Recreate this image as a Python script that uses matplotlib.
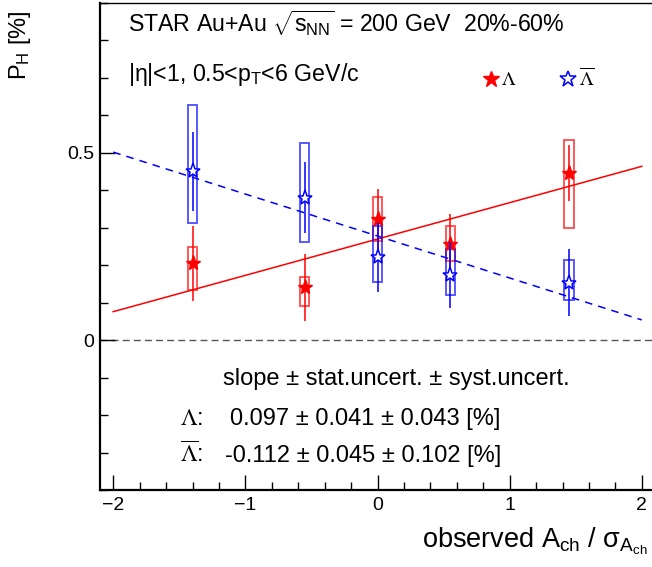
import numpy as np
import matplotlib.pyplot as plt
from matplotlib.patches import Rectangle
from matplotlib.lines import Line2D
from matplotlib.ticker import MultipleLocator, FixedLocator

plt.rcParams['font.family'] = ['Liberation Sans', 'DejaVu Sans']
plt.rcParams['mathtext.fontset'] = 'custom'
plt.rcParams['mathtext.rm'] = 'Liberation Sans'
plt.rcParams['mathtext.it'] = 'Liberation Sans'
plt.rcParams['mathtext.bf'] = 'Liberation Sans:bold'

## values
x_ach = [-1.40, -0.55, 0.00, 0.55, 1.45]

lam_ph = [0.205, 0.141, 0.324, 0.258, 0.447]
lam_stat = [0.101, 0.090, 0.080, 0.080, 0.075]
lam_sys_lo = [0.133, 0.090, 0.265, 0.210, 0.300]
lam_sys_hi = [0.250, 0.168, 0.383, 0.306, 0.535]

alam_ph = [0.451, 0.380, 0.221, 0.173, 0.153]
alam_stat = [0.105, 0.095, 0.093, 0.088, 0.089]
alam_sys_lo = [0.314, 0.263, 0.154, 0.120, 0.106]
alam_sys_hi = [0.628, 0.527, 0.306, 0.242, 0.213]

## linear fits (slope, intercept) over the fit range
lam_fit = (0.097, 0.270)
alam_fit = (-0.112, 0.278)
fit_range = (-2.0, 2.0)

x_ticks = [-2, -1, 0, 1, 2]
x_ticklabels = ['\u22122', '\u22121', '0', '1', '2']
y_ticks = [0.0, 0.5]
y_ticklabels = ['0', '0.5']

W, H = 652, 567
def fx(px):
    return px / W
def fy(py):
    return (H - py) / H

fig = plt.figure(figsize=(W / 100, H / 100), dpi=100)
ax = fig.add_axes([fx(100), fy(490), 555 / W, 487 / H])
ax.set_xlim(-2.1, 2.1)
ax.set_ylim(-0.4, 0.9)

## zero line
ax.axhline(0, color='#555555', lw=1, ls=(0, (5, 3)), zorder=1)

## fit lines
xf = np.linspace(fit_range[0], fit_range[1], 2)
ax.plot(xf, lam_fit[0] * xf + lam_fit[1], color='red', lw=1.1, zorder=2)
ax.plot(xf, alam_fit[0] * xf + alam_fit[1], color='blue', lw=1.1,
        ls=(0, (5, 4)), zorder=2)

## systematic boxes
bw = 0.07
def draw_boxes(xs, lo, hi, col):
    for xi, l, h in zip(xs, lo, hi):
        ax.add_patch(Rectangle((xi - bw / 2, l), bw, h - l, fill=False,
                               edgecolor=col, lw=1.4, alpha=0.65, zorder=3))

draw_boxes(x_ach, lam_sys_lo, lam_sys_hi, 'red')
draw_boxes(x_ach, alam_sys_lo, alam_sys_hi, 'blue')

## points with stat errors
ax.errorbar(x_ach, lam_ph, yerr=lam_stat, fmt='*', color='red', ms=11,
            elinewidth=1.1, capsize=0, zorder=4)
ax.errorbar(x_ach, alam_ph, yerr=alam_stat, fmt='*', color='blue', ms=11,
            mfc='white', mew=1.1, elinewidth=1.1, capsize=0, zorder=5)

## axes style (ROOT like)
ax.spines['right'].set_visible(False)
ax.spines['top'].set_linewidth(1.0)
ax.spines['left'].set_linewidth(1.6)
ax.spines['bottom'].set_linewidth(1.6)
ax.xaxis.set_major_locator(FixedLocator(x_ticks))
ax.set_xticklabels(x_ticklabels)
ax.xaxis.set_minor_locator(MultipleLocator(0.2))
ax.yaxis.set_major_locator(FixedLocator(y_ticks))
ax.set_yticklabels(y_ticklabels)
ax.yaxis.set_minor_locator(MultipleLocator(0.1))
ax.tick_params(which='both', direction='in', top=False, right=False,
               labelsize=14, width=1.0)
ax.tick_params(which='major', length=11)
ax.tick_params(which='minor', length=5.5)
ax.tick_params(axis='x', pad=5)
ax.tick_params(axis='y', pad=4)

## legend
h_lam = Line2D([], [], ls='none', marker='*', color='red', ms=12)
h_alam = Line2D([], [], ls='none', marker='*', color='blue', mfc='white',
                mew=1.1, ms=12)
leg = fig.legend([h_lam, h_alam], [r'$\Lambda$', r'$\overline{\Lambda}$'],
                 ncol=2, frameon=False, loc='center left',
                 bbox_to_anchor=(fx(482), fy(78)), handlelength=0.9,
                 handletextpad=0.1, columnspacing=2.2, fontsize=14,
                 borderpad=0, borderaxespad=0)
for t in leg.get_texts():
    t.set_math_fontfamily('stix')

## texts
fig.text(fx(128), fy(32), r'STAR Au+Au $\sqrt{s_{NN}}$ = 200 GeV  20%-60%',
         fontsize=16.7, va='baseline')
fig.text(fx(128), fy(81), r'|$\eta$|<1, 0.5<p$_T$<6 GeV/c',
         fontsize=16.7, va='baseline')

fig.text(fx(223), fy(385), 'slope \u00b1 stat.uncert. \u00b1 syst.uncert.',
         fontsize=17, va='baseline')
fig.text(fx(180), fy(425), r'$\Lambda$:', fontsize=17, va='baseline',
         math_fontfamily='stix')
fig.text(fx(230), fy(425), '0.097 \u00b1 0.041 \u00b1 0.043 [%]',
         fontsize=17, va='baseline')
fig.text(fx(180), fy(462), r'$\overline{\Lambda}$:', fontsize=17,
         va='baseline', math_fontfamily='stix')
fig.text(fx(225), fy(462), '-0.112 \u00b1 0.045 \u00b1 0.102 [%]',
         fontsize=17, va='baseline')

## axis titles
fig.text(fx(648), fy(547), 'observed A$_\\mathrm{ch}$ / \u03c3$_{\\mathrm{A_{ch}}}$',
         fontsize=19.5, ha='right', va='baseline')
fig.text(fx(33), fy(10), r'P$_\mathrm{H}$ [%]', fontsize=17, rotation=90,
         ha='right', va='top')

fig.savefig('out.png', dpi=100)
